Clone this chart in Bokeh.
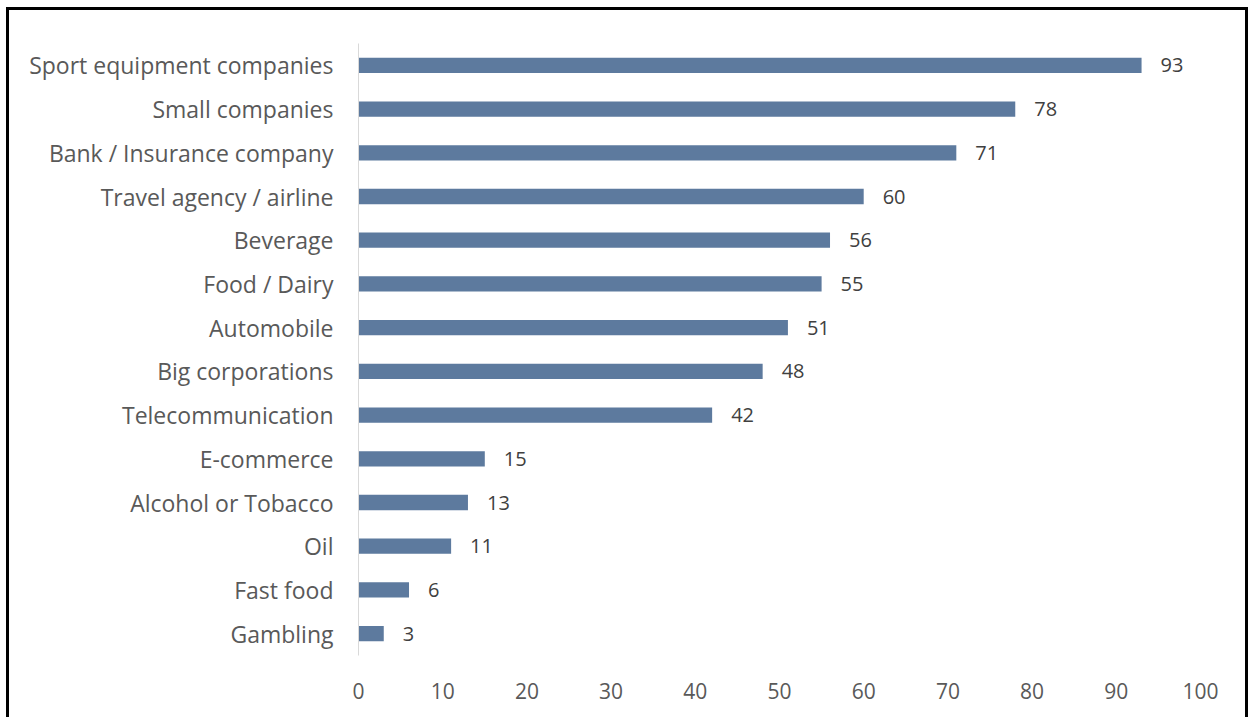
from bokeh.plotting import figure
from bokeh.models import ColumnDataSource, FactorRange, Range1d, LabelSet, FixedTicker
from bokeh.core.properties import value
from bokeh.embed import file_html
from bokeh.resources import INLINE

categories = ["Sport equipment companies", "Small companies", "Bank / Insurance company",
              "Travel agency / airline", "Beverage", "Food / Dairy", "Automobile",
              "Big corporations", "Telecommunication", "E-commerce", "Alcohol or Tobacco",
              "Oil", "Fast food", "Gambling"]
values = [93, 78, 71, 60, 56, 55, 51, 48, 42, 15, 13, 11, 6, 3]
x_ticks = [0, 10, 20, 30, 40, 50, 60, 70, 80, 90, 100]

FONT = "Open Sans"
src = ColumnDataSource(dict(cat=categories, val=values, lab=[str(v) for v in values]))

p = figure(width=1242, height=710, y_range=FactorRange(*categories[::-1]),
           x_range=Range1d(0, 100), output_backend="svg", toolbar_location=None,
           min_border_left=349, min_border_right=51, min_border_top=33, min_border_bottom=65)
p.styles = {"border": "3px solid #000", "border-bottom": "none", "margin-left": "6px", "margin-top": "7px"}
p.hbar(y="cat", left=0, right="val", height=0.35, source=src, color="#5D7A9E", line_color=None)
labels = LabelSet(x="val", y="cat", text="lab", source=src, x_offset=19, y_offset=0,
                  text_baseline="middle", text_font_size="20px", text_color="#404040",
                  text_font=value(FONT))
p.add_layout(labels)

p.outline_line_color = None
p.xgrid.grid_line_color = None
p.ygrid.grid_line_color = None

p.xaxis.ticker = FixedTicker(ticks=x_ticks)
p.xaxis.axis_line_color = None
p.xaxis.major_tick_line_color = None
p.xaxis.minor_tick_line_color = None
p.xaxis.major_label_text_font_size = "21px"
p.xaxis.major_label_text_color = "#595959"
p.xaxis.major_label_text_font = FONT
p.xaxis.major_label_standoff = 21

p.yaxis.axis_line_color = "#D9D9D9"
p.yaxis.axis_line_width = 1
p.yaxis.major_tick_line_color = None
p.yaxis.minor_tick_line_color = None
p.yaxis.major_label_text_font_size = "23px"
p.yaxis.major_label_text_color = "#595959"
p.yaxis.major_label_text_font = FONT
p.yaxis.major_label_standoff = 19

open("out.html", "w").write(file_html(p, INLINE))
